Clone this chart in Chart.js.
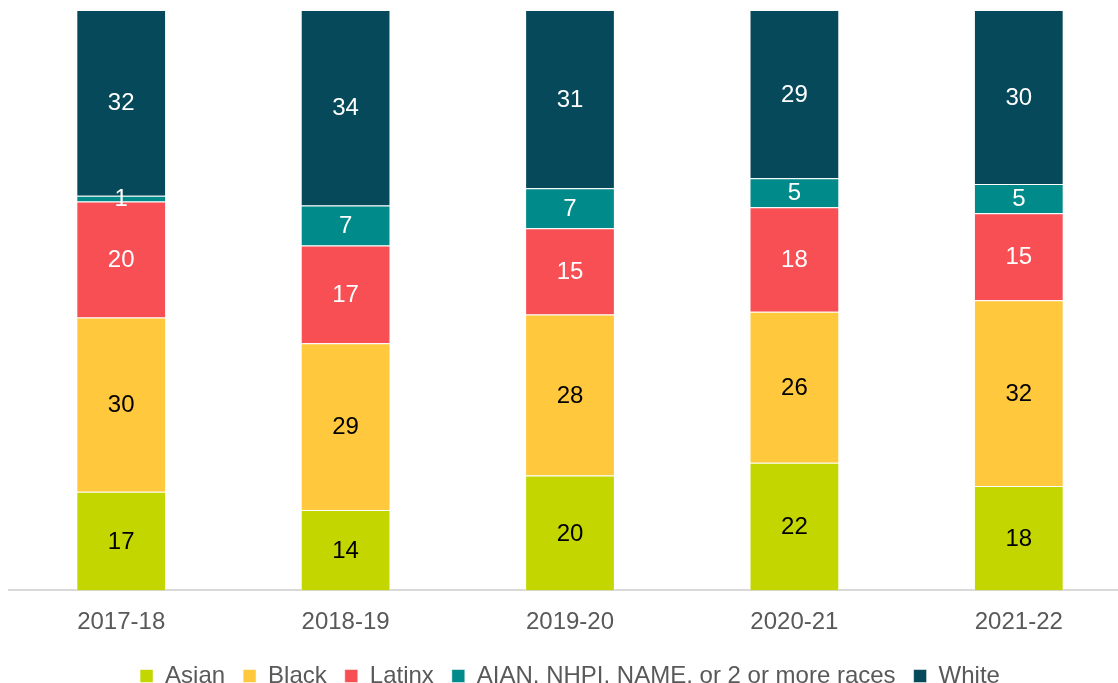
<!DOCTYPE html>
<html>
<head>
<meta charset="utf-8">
<script src="https://cdn.jsdelivr.net/npm/chart.js@4/dist/chart.umd.min.js"></script>
<style>
    html, body { margin: 0; padding: 0; background: #fff; overflow: hidden; }
    #wrap { width: 1150px; height: 698px; }
</style>
</head>
<body>
<div id="wrap"><canvas id="chart"></canvas></div>
<script>
const years = ['2017-18', '2018-19', '2019-20', '2020-21', '2021-22'];
const asian = [17, 14, 20, 22, 18];
const black = [30, 29, 28, 26, 32];
const latinx = [20, 17, 15, 18, 15];
const aian = [1, 7, 7, 5, 5];
const white = [32, 34, 31, 29, 30];

const groups = [
    { label: 'Asian', values: asian, color: '#c3d600', text: '#000000' },
    { label: 'Black', values: black, color: '#ffc83d', text: '#000000' },
    { label: 'Latinx', values: latinx, color: '#f84f55', text: '#ffffff' },
    { label: 'AIAN, NHPI, NAME, or 2 or more races', values: aian, color: '#008a8a', text: '#ffffff' },
    { label: 'White', values: white, color: '#05495a', text: '#ffffff' }
];

// each year is drawn as a 100% bar
const totals = years.map((y, i) => groups.reduce((s, g) => s + g.values[i], 0));

const FONT = '"Liberation Sans", Arial, sans-serif';

// writes the rounded values in the middle of each segment
const segmentLabels = {
    id: 'segmentLabels',
    afterDatasetsDraw(chart) {
        const ctx = chart.ctx;
        ctx.save();
        ctx.font = '24px ' + FONT;
        ctx.textAlign = 'center';
        ctx.textBaseline = 'middle';
        chart.data.datasets.forEach((ds, di) => {
            chart.getDatasetMeta(di).data.forEach((bar, i) => {
                const p = bar.getProps(['x', 'y', 'base'], true);
                ctx.fillStyle = groups[di].text;
                ctx.fillText(groups[di].values[i], p.x, (p.y + p.base) / 2 + 1);
            });
        });
        ctx.restore();
    }
};

new Chart(document.getElementById('chart'), {
    type: 'bar',
    data: {
        labels: years,
        datasets: groups.map(g => ({
            label: g.label,
            data: g.values.map((v, i) => v / totals[i] * 100),
            backgroundColor: g.color,
            borderColor: 'rgba(255,255,255,0.5)',
            borderWidth: 1,
            barPercentage: 0.4,
            categoryPercentage: 1
        }))
    },
    options: {
        responsive: true,
        maintainAspectRatio: false,
        animation: false,
        layout: { padding: { left: 9, right: 19, top: 10, bottom: 0 } },
        plugins: {
            legend: {
                position: 'bottom',
                labels: {
                    boxWidth: 13,
                    boxHeight: 13,
                    padding: 18,
                    color: '#595959',
                    font: { family: FONT, size: 24 }
                }
            },
            tooltip: { enabled: false }
        },
        scales: {
            x: {
                stacked: true,
                grid: { display: false },
                border: { color: '#d9d9d9', width: 2 },
                ticks: {
                    color: '#595959',
                    padding: 13,
                    font: { family: FONT, size: 24, lineHeight: 0.9 }
                }
            },
            y: {
                stacked: true,
                display: false,
                min: 0,
                max: 100
            }
        }
    },
    plugins: [segmentLabels]
});
</script>
</body>
</html>
